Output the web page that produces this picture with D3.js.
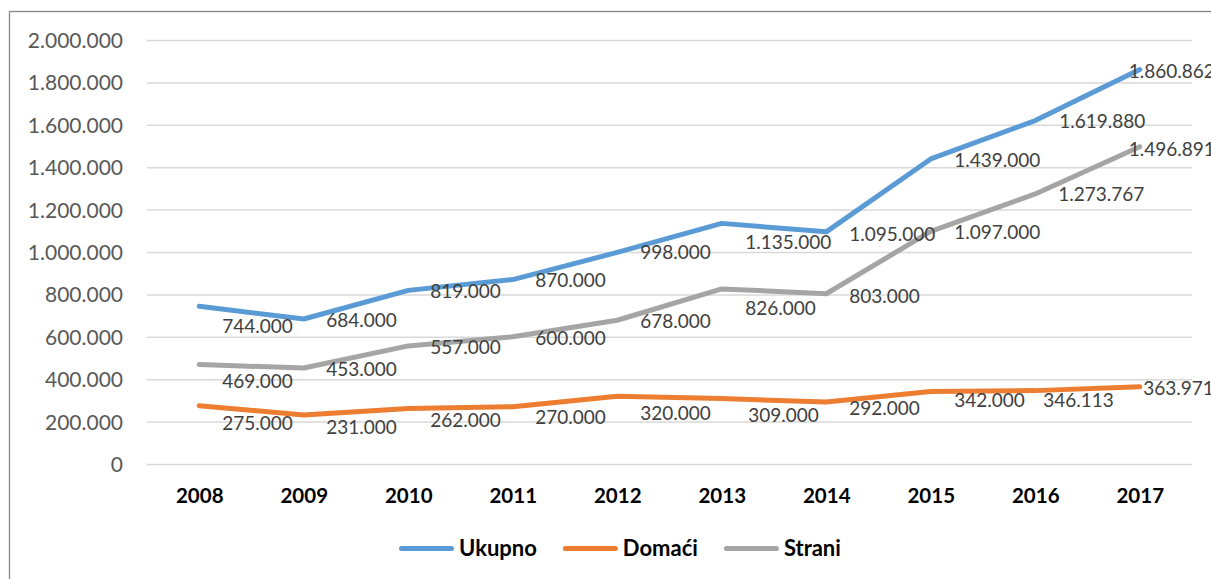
<!DOCTYPE html>
<html>
<head>
<meta charset="utf-8">
<script src="https://cdn.jsdelivr.net/npm/d3@7"></script>
<style>
  html, body { margin: 0; padding: 0; background: #fff; }
  svg { display: block; }
  text { font-family: Lato, "Open Sans", sans-serif; }
</style>
</head>
<body>
<svg id="chart" width="1211" height="579"></svg>
<script>
// ---- data ----
const years = ["2008","2009","2010","2011","2012","2013","2014","2015","2016","2017"];
const ukupno = [744000, 684000, 819000, 870000, 998000, 1135000, 1095000, 1439000, 1619880, 1860862];
const domaci = [275000, 231000, 262000, 270000, 320000, 309000, 292000, 342000, 346113, 363971];
const strani = [469000, 453000, 557000, 600000, 678000, 826000, 803000, 1097000, 1273767, 1496891];
const yTicks = [0, 200000, 400000, 600000, 800000, 1000000, 1200000, 1400000, 1600000, 1800000, 2000000];
const seriesNames = ["Ukupno", "Domaći", "Strani"];

// label placement offsets (styling): dx to label start, dy to label centre
const ukupnoLabelDx = [23, 22.5, 22, 22.5, 23, 23.5, 23, 23.5, 24, -11];
const ukupnoLabelDy = [20, 1, 1, 1, 0, 19, 2, 1, 1, 1.5];
const domaciLabelDx = [23, 22.5, 22, 22.5, 23, 26.5, 23, 23.5, 8, 3.5];
const domaciLabelDy = [17.5, 12, 11.5, 10, 17, 16.5, 6, 9, 10, 1.3];
const straniLabelDx = [23, 22.5, 22, 22.5, 23, 23.5, 23, 23.5, 23, -11];
const straniLabelDy = [17, 1, 1, 1, 1, 19, 2, 1, 0.5, 2.5];

const colors = ["#5B9BD5", "#ED7D31", "#A5A5A5"];

(function () {
// ---- layout ----
const svg = d3.select("#chart");
const plotLeft = 147, plotRight = 1192, plotTop = 40, plotBottom = 464;

const fmt = d3.formatLocale({decimal: ",", thousands: ".", grouping: [3], currency: ["", ""]}).format(",");

const x = d3.scalePoint().domain(years).range([plotLeft, plotRight]).padding(0.5);
const y = d3.scaleLinear().domain([0, 2000000]).range([plotBottom, plotTop]);

// outer border
svg.append("rect")
  .attr("x", 9.5).attr("y", 11.5)
  .attr("width", 1260).attr("height", 620)
  .attr("fill", "none").attr("stroke", "#878787").attr("stroke-width", 1.3);

// y axis with gridlines
const yAxis = svg.append("g")
  .attr("transform", `translate(${plotLeft},0)`)
  .call(d3.axisLeft(y).tickValues(yTicks).tickFormat(fmt)
        .tickSize(-(plotRight - plotLeft)).tickPadding(24));
yAxis.select(".domain").remove();
yAxis.selectAll(".tick line").attr("stroke", "#D9D9D9").attr("stroke-width", 1.5);
yAxis.selectAll(".tick text")
  .attr("fill", "#595959").style("font-size", "21px").attr("dy", "0.36em");

// x axis
const xAxis = svg.append("g")
  .attr("transform", `translate(0,${plotBottom})`)
  .call(d3.axisBottom(x).tickSize(0).tickPadding(0));
xAxis.select(".domain").remove();
xAxis.selectAll(".tick text")
  .attr("y", 32).attr("dy", "0.36em")
  .attr("fill", "#000").style("font-size", "20.5px").style("font-weight", "bold");

// lines
const allSeries = [ukupno, domaci, strani];
const line = d3.line().x((d, i) => x(years[i])).y(d => y(d));
allSeries.forEach((s, k) => {
  svg.append("path")
    .datum(s)
    .attr("d", line)
    .attr("fill", "none")
    .attr("stroke", colors[k])
    .attr("stroke-width", 5)
    .attr("stroke-linejoin", "round")
    .attr("stroke-linecap", "round");
});

// data labels
const dxs = [ukupnoLabelDx, domaciLabelDx, straniLabelDx];
const dys = [ukupnoLabelDy, domaciLabelDy, straniLabelDy];
allSeries.forEach((s, k) => {
  svg.append("g").selectAll("text")
    .data(s)
    .join("text")
    .attr("x", (d, i) => x(years[i]) + dxs[k][i])
    .attr("y", (d, i) => y(d) + dys[k][i])
    .attr("dy", "0.36em")
    .attr("fill", "#404040")
    .style("font-size", "19px")
    .text(d => fmt(d));
});

// legend
const legend = svg.append("g");
let lx = 399;
const ly = 548.5;
seriesNames.forEach((name, k) => {
  legend.append("line")
    .attr("x1", lx + 2.5).attr("x2", lx + 52.5)
    .attr("y1", ly).attr("y2", ly)
    .attr("stroke", colors[k]).attr("stroke-width", 5)
    .attr("stroke-linecap", "round");
  const t = legend.append("text")
    .attr("x", lx + 60).attr("y", ly).attr("dy", "0.36em")
    .attr("fill", "#000").style("font-size", "22px").style("font-weight", "bold")
    .text(name);
  lx = lx + 60 + t.node().getComputedTextLength() + 26;
});
})();
</script>
</body>
</html>
